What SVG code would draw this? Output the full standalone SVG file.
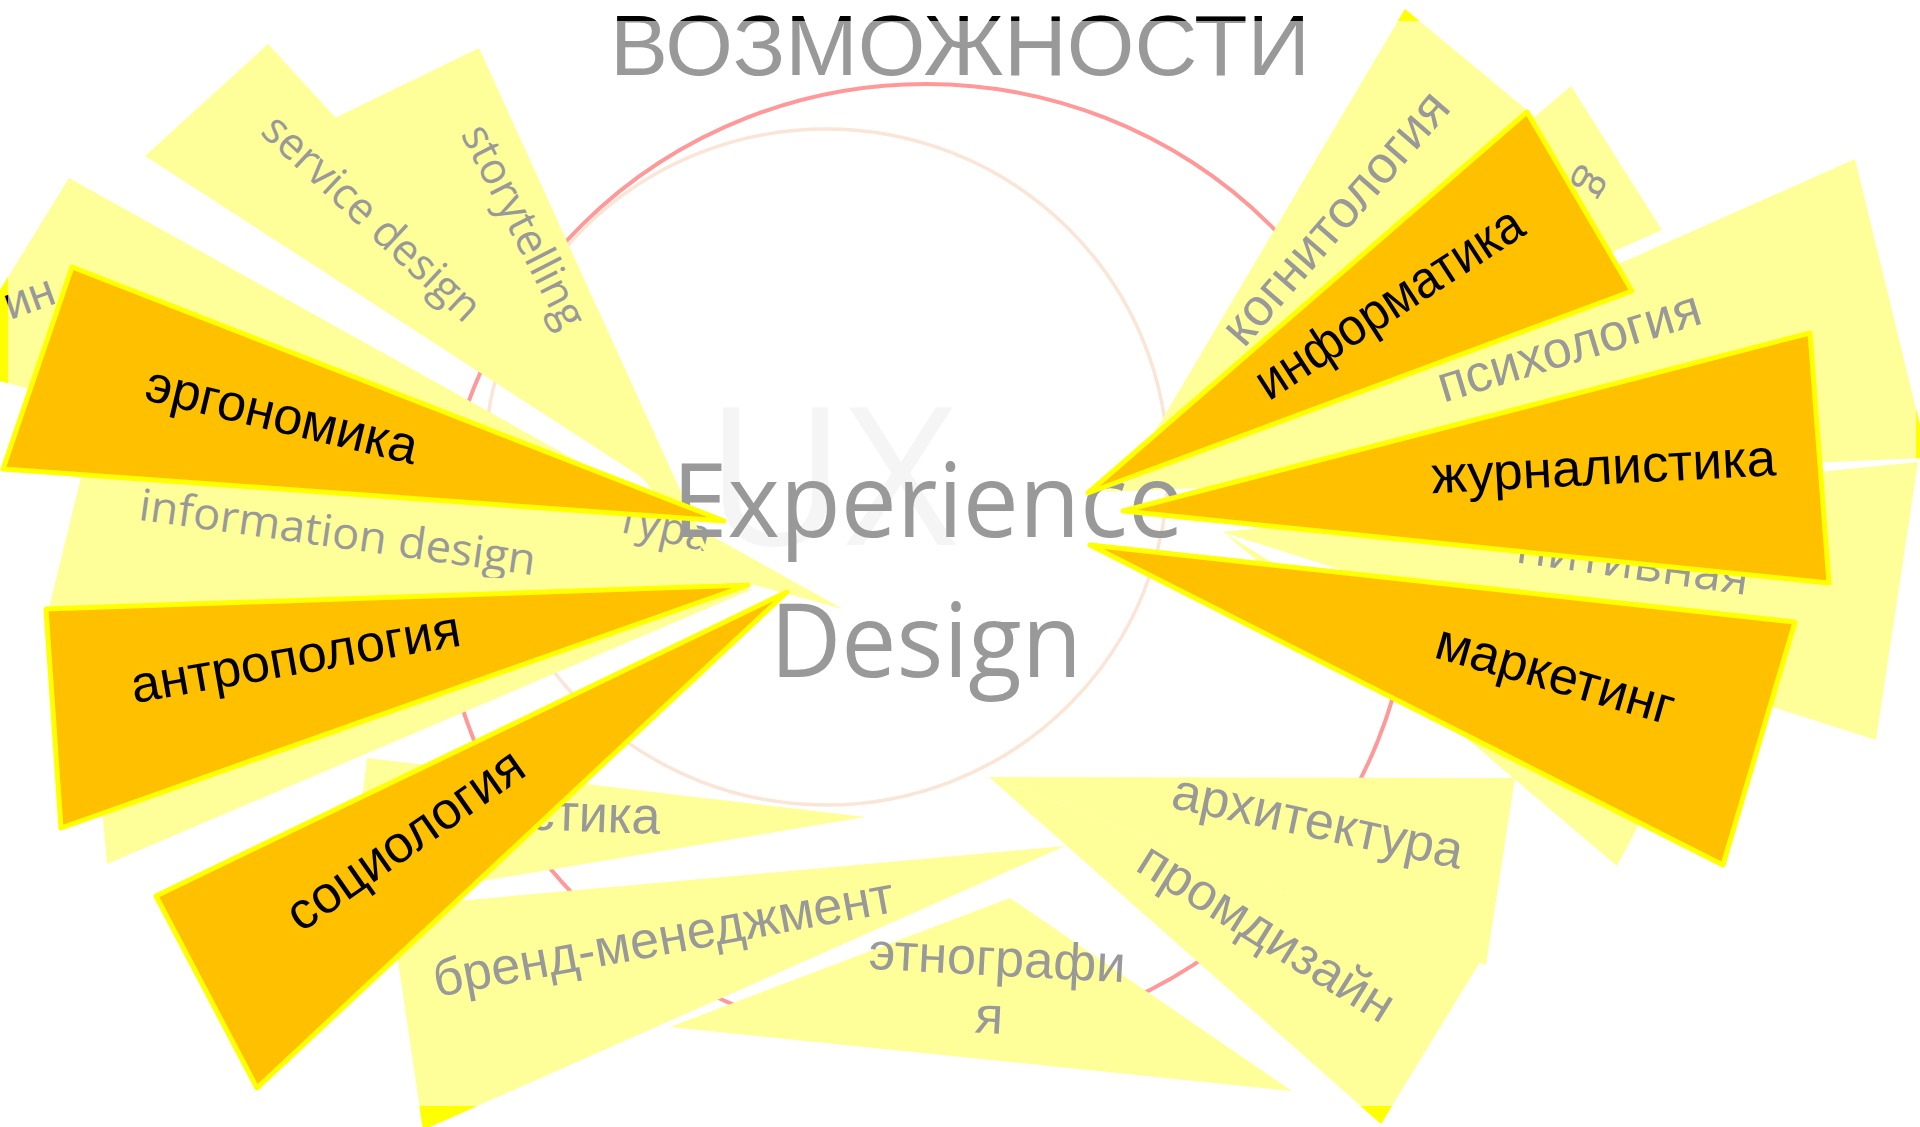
<svg xmlns="http://www.w3.org/2000/svg" width="1920" height="1127" viewBox="0 0 1920 1127">
<style>
.lt{fill:#ffff99}
.br{fill:#ffff00}
.or{fill:#ffc000;stroke:#ffff00;stroke-width:5;stroke-linejoin:round}
.gr{fill:#999999;font-family:"Liberation Sans",Arial,sans-serif;font-size:52px;text-anchor:middle}
.en{fill:#999999;font-family:"Open Sans","Noto Sans",sans-serif;font-size:44px;text-anchor:middle}
.bk{fill:#000000;font-family:"Liberation Sans",Arial,sans-serif;font-size:52px;text-anchor:middle}
.big{fill:#999999;font-family:"Open Sans","Noto Sans",sans-serif;font-size:102px;text-anchor:middle}
.ttl{font-family:"Liberation Sans",Arial,sans-serif;font-size:85px;text-anchor:middle}
</style>
<defs>
<clipPath id="off"><path clip-rule="evenodd" d="M-10 -10H1930V1137H-10Z M8 21V1106H1916V21Z"/></clipPath>
</defs>
<rect width="1920" height="1127" fill="#ffffff"/>

<g id="rings" fill="none">
<ellipse cx="926" cy="564" rx="486" ry="480" stroke="#ff9999" stroke-width="4"/>
<ellipse cx="826" cy="467" rx="342" ry="338" stroke="#fbe5d6" stroke-width="3.5"/>
</g>

<g id="watermark"><text x="831" y="545" font-family="Open Sans, Noto Sans, sans-serif" font-size="192" fill="#f5f5f5" text-anchor="middle">UX</text></g>

<g id="n-information-design">
<polygon class="lt" points="100,400 47,616 745,582"/>
<text class="en" transform="translate(337,537) rotate(8)" dy="0.24em" textLength="400" lengthAdjust="spacingAndGlyphs">information design</text>
</g>
<g id="n-light-f"><polygon class="lt" points="80,560 107,864 753,589"/></g>
<g id="n-information-architecture">
<polygon class="lt" points="69,178 843,609 -48,368"/>
<text class="gr" style="text-anchor:start;font-size:46px" transform="translate(10,320) rotate(-20)">ин</text>
<text class="en" style="text-anchor:end" transform="translate(707,552) rotate(13)">тура</text>
</g>
<g id="n-service-design">
<polygon class="lt" points="268,44 145,156 700,515"/>
<text class="en" transform="translate(369,221) rotate(43)" dy="0.24em" textLength="281" lengthAdjust="spacingAndGlyphs">service design</text>
</g>
<g id="n-storytelling">
<polygon class="lt" points="479,48 335,118 712,560"/>
<text class="en" transform="translate(520,228) rotate(63)" dy="0.24em" textLength="222" lengthAdjust="spacingAndGlyphs">storytelling</text>
</g>
<g id="n-stika">
<polygon class="lt" points="367,758 350,903 866,817"/>
<text class="gr" style="text-anchor:end" transform="translate(660,834) rotate(2)">стика</text>
</g>
<g id="n-brand">
<polygon class="lt" points="390,907 423,1130 1065,846"/>
<text class="gr" transform="translate(664,941) rotate(-10.5)" dy="0.26em" textLength="468" lengthAdjust="spacingAndGlyphs">бренд-менеджмент</text>
</g>
<g id="n-ethnography">
<polygon class="lt" points="1010,898 670,1027 1292,1091"/>
<g transform="translate(997,962) rotate(3)">
<text class="gr" dy="0.26em" textLength="257" lengthAdjust="spacingAndGlyphs">этнографи</text>
<text class="gr" x="-5" y="58" dy="0.26em">я</text>
</g>
</g>
<g id="n-architecture">
<polygon class="lt" points="989,777 1515,778 1486,965"/>
<text class="gr" transform="translate(1316,830) rotate(12)" dy="0.16em" textLength="296" lengthAdjust="spacingAndGlyphs">архитектура</text>
</g>
<g id="n-industrial-design">
<polygon class="lt" points="989,777 1381,1124 1480,962"/>
<text class="gr" transform="translate(1263,938) rotate(32)" dy="0.2em" textLength="292" lengthAdjust="spacingAndGlyphs">промдизайн</text>
</g>
<g id="n-cognitology">
<polygon class="lt" points="1405,9 1575,150 1150,440"/>
<text class="gr" transform="translate(1338,220) rotate(-49)" dy="0.26em" textLength="318" lengthAdjust="spacingAndGlyphs">когнитология</text>
</g>
<g id="n-g">
<polygon class="lt" points="1571,86 1662,230 1120,470"/>
<text class="en" transform="translate(1588,181) rotate(120)" dy="0.14em">g</text>
</g>
<g id="n-psychology">
<polygon class="lt" points="1855,159 1928,458 1105,492"/>
<text class="gr" transform="translate(1570,350) rotate(-17)" dy="0.26em" textLength="273" lengthAdjust="spacingAndGlyphs">психология</text>
</g>
<g id="n-cognitive">
<polygon class="lt" points="1222,532 1918,462 1876,740"/>
<text class="en" style="text-anchor:end;font-size:50px" transform="translate(1747,595) rotate(8)">нитивная</text>
</g>
<g id="n-light-t"><polygon class="lt" points="1223,532 1617,866 1652,800"/></g>

<g id="title">
<text class="ttl" x="960" y="75" fill="#999999" textLength="700" lengthAdjust="spacingAndGlyphs">ВОЗМОЖНОСТИ</text>
</g>
<g id="center">
<text class="big" x="928" y="537" textLength="512" lengthAdjust="spacingAndGlyphs">Experience</text>
<text class="big" x="926" y="677" textLength="312" lengthAdjust="spacingAndGlyphs">Design</text>
</g>

<g id="off-slide" clip-path="url(#off)">
<polygon class="br" points="69,178 843,609 -48,368"/>
<polygon class="br" points="1405,9 1575,150 1150,440"/>
<polygon class="br" points="1855,159 1928,458 1105,492"/>
<polygon class="br" points="390,907 423,1130 1065,846"/>
<polygon class="br" points="989,777 1381,1124 1480,962"/>
<text class="ttl" x="960" y="75" fill="#000000" textLength="700" lengthAdjust="spacingAndGlyphs">ВОЗМОЖНОСТИ</text>
<text class="bk" style="text-anchor:start;font-size:46px" transform="translate(10,320) rotate(-20)">ин</text>
</g>

<g id="n-ergonomics">
<polygon class="or" points="72,267 3,469 724,521"/>
<text class="bk" transform="translate(278,432) rotate(13.5)" textLength="278" lengthAdjust="spacingAndGlyphs">эргономика</text>
</g>
<g id="n-anthropology">
<polygon class="or" points="46,609 61,828 748,585"/>
<text class="bk" transform="translate(297,666) rotate(-10)" dy="0.16em" textLength="334" lengthAdjust="spacingAndGlyphs">антропология</text>
</g>
<g id="n-sociology">
<polygon class="or" points="156,896 257,1088 787,592"/>
<text class="bk" transform="translate(409,845) rotate(-35)" dy="0.2em" textLength="278" lengthAdjust="spacingAndGlyphs">социология</text>
</g>
<g id="n-informatics">
<polygon class="or" points="1527,112 1632,291 1088,493"/>
<text class="bk" transform="translate(1391,306) rotate(-33)" dy="0.26em" textLength="309" lengthAdjust="spacingAndGlyphs">информатика</text>
</g>
<g id="n-journalism">
<polygon class="or" points="1123,511 1810,333 1829,583"/>
<text class="bk" transform="translate(1604,476) rotate(-3)" dy="0.16em" textLength="345" lengthAdjust="spacingAndGlyphs">журналистика</text>
</g>
<g id="n-marketing">
<polygon class="or" points="1090,545 1795,622 1723,865"/>
<text class="bk" transform="translate(1553,683) rotate(16)" dy="0.16em" textLength="246" lengthAdjust="spacingAndGlyphs">маркетинг</text>
</g>
</svg>
